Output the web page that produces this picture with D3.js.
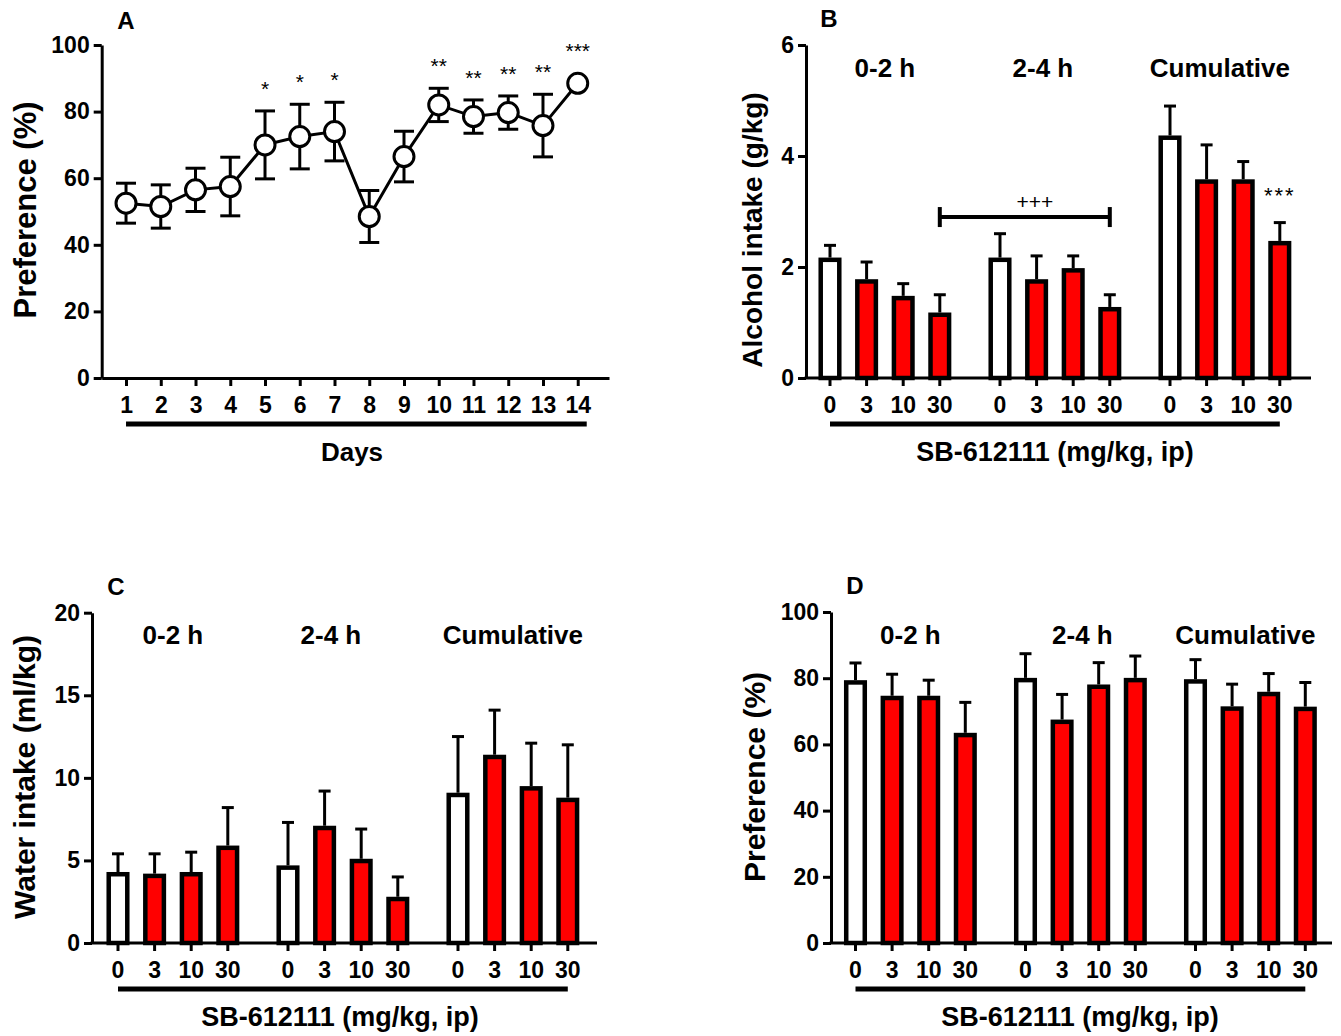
<!DOCTYPE html>
<html>
<head>
<meta charset="utf-8">
<script src="https://cdn.jsdelivr.net/npm/d3@7"></script>
<style>
  body { margin: 0; background: #fff; }
  text { font-family: "Liberation Sans", Arial, sans-serif; fill: #000; }
</style>
</head>
<body>
<svg id="drawing_region"></svg>
<script>
// ---- data ----
const days = [1, 2, 3, 4, 5, 6, 7, 8, 9, 10, 11, 12, 13, 14];
const dayPrefMean = [52.5, 51.5, 56.5, 57.5, 70, 72.5, 74, 48.5, 66.5, 82, 78.5, 79.7, 75.8, 88.5];
const dayPrefSem = [6, 6.5, 6.5, 8.8, 10.2, 9.7, 8.8, 7.8, 7.6, 5, 5, 5, 9.4, 0];
const dayStars = ["", "", "", "", "*", "*", "*", "", "", "**", "**", "**", "**", "***"];

const groups = ["0-2 h", "2-4 h", "Cumulative"];
const doses = ["0", "3", "10", "30"];

const alcoholMean = [2.17, 1.78, 1.48, 1.18,  2.17, 1.78, 1.98, 1.28,  4.37, 3.58, 3.58, 2.47];
const alcoholSem  = [0.22, 0.31, 0.22, 0.32,  0.43, 0.42, 0.22, 0.22,  0.53, 0.62, 0.32, 0.33];

const waterMean = [4.3, 4.2, 4.3, 5.9,  4.7, 7.1, 5.1, 2.8,  9.1, 11.4, 9.5, 8.8];
const waterSem  = [1.1, 1.2, 1.2, 2.3,  2.6, 2.1, 1.8, 1.2,  3.4, 2.7, 2.6, 3.2];

const prefMean = [79.4, 74.7, 74.7, 63.5,  80.1, 67.5, 78.1, 80.1,  79.7, 71.5, 75.9, 71.4];
const prefSem  = [5.2, 6.5, 4.7, 9.2,  7.3, 7.6, 6.6, 6.6,  5.9, 6.7, 5.5, 7.3];

const svg = d3.select('#drawing_region')
    .attr('width', 1341)
    .attr('height', 1036);

const FONT_TICK = 23;
const RED = '#ff0000';

function styleYAxis(g) {
    g.select('.domain').attr('stroke-width', 3);
    g.selectAll('.tick line').attr('stroke-width', 3);
    g.selectAll('.tick text')
        .attr('font-size', FONT_TICK)
        .attr('font-weight', 'bold')
        .style('font-family', '"Liberation Sans", Arial, sans-serif');
}

function styleXTicks(g) {
    g.select('.domain').remove();
    g.selectAll('.tick line').attr('stroke-width', 3);
    g.selectAll('.tick text')
        .attr('font-size', FONT_TICK)
        .attr('font-weight', 'bold')
        .style('font-family', '"Liberation Sans", Arial, sans-serif');
}

function addText(x, y, str, size, weight, rotate) {
    const t = svg.append('text')
        .attr('text-anchor', 'middle')
        .attr('font-size', size)
        .attr('font-weight', weight || 'bold')
        .text(str);
    if (rotate) {
        t.attr('transform', `translate(${x},${y}) rotate(-90)`);
    } else {
        t.attr('x', x).attr('y', y);
    }
    return t;
}

// ---- panel A: line chart ----
function drawPanelA() {
    const x0 = 101.7, y0 = 378, yTop = 45;
    const xscale = d3.scaleLinear().domain([0.3, 14.9]).range([x0, 609]);
    const yscale = d3.scaleLinear().domain([0, 100]).range([y0, yTop]);

    const ya = svg.append('g').attr('transform', `translate(${x0},0)`)
        .call(d3.axisLeft(yscale).tickValues([0, 20, 40, 60, 80, 100]).tickSize(8).tickPadding(4).tickSizeOuter(0));
    styleYAxis(ya);

    const xa = svg.append('g').attr('transform', `translate(0,${y0})`)
        .call(d3.axisBottom(xscale).tickValues(days).tickSize(8).tickPadding(11).tickSizeOuter(0));
    xa.select('.domain').attr('stroke-width', 3);
    xa.selectAll('.tick line').attr('stroke-width', 3);
    xa.selectAll('.tick text').attr('font-size', FONT_TICK).attr('font-weight', 'bold')
        .style('font-family', '"Liberation Sans", Arial, sans-serif');

    const data = days.map((d, i) => ({ day: d, m: dayPrefMean[i], s: dayPrefSem[i], star: dayStars[i] }));
    const cap = 10;
    const eb = svg.append('g').attr('stroke', '#000').attr('stroke-width', 3);
    data.filter(d => d.s > 0).forEach(d => {
        const cx = xscale(d.day);
        eb.append('line').attr('x1', cx).attr('x2', cx).attr('y1', yscale(d.m - d.s)).attr('y2', yscale(d.m + d.s));
        eb.append('line').attr('x1', cx - cap).attr('x2', cx + cap).attr('y1', yscale(d.m + d.s)).attr('y2', yscale(d.m + d.s));
        eb.append('line').attr('x1', cx - cap).attr('x2', cx + cap).attr('y1', yscale(d.m - d.s)).attr('y2', yscale(d.m - d.s));
    });

    svg.append('path').datum(data)
        .attr('fill', 'none').attr('stroke', '#000').attr('stroke-width', 3)
        .attr('d', d3.line().x(d => xscale(d.day)).y(d => yscale(d.m)));

    const r = 10;
    svg.selectAll('circle.dayPt').data(data).enter().append('circle')
        .attr('class', 'dayPt')
        .attr('cx', d => xscale(d.day)).attr('cy', d => yscale(d.m)).attr('r', r)
        .attr('fill', '#fff').attr('stroke', '#000').attr('stroke-width', 3);

    data.filter(d => d.star).forEach(d => {
        const top = Math.min(yscale(d.m + d.s), yscale(d.m) - r);
        addText(xscale(d.day), top - 27 + 12, d.star, 21, 'normal');
    });

    // underline + labels
    svg.append('line').attr('x1', xscale(1)).attr('x2', xscale(14) + 9)
        .attr('y1', 424).attr('y2', 424).attr('stroke', '#000').attr('stroke-width', 5);
    addText(352, 452 + 9, 'Days', 26);
    addText(25 + 11, 210, 'Preference (%)', 31, 'bold', true);
    addText(126, 20 + 9, 'A', 24);
}

// ---- bar panels ----
function drawBarPanel(cfg, means, sems) {
    const { axisX, xEnd, firstCenter, y0, yTop, ymax, yticks } = cfg;
    const step = 36.6, groupStep = 170;
    const outer = d3.scaleBand().domain(groups)
        .range([firstCenter - step / 2, firstCenter - step / 2 + groupStep * 3]);
    const inner = d3.scaleBand().domain(doses).range([0, step * 4])
        .paddingInner(0.37).paddingOuter(0.185);
    const yscale = d3.scaleLinear().domain([0, ymax]).range([y0, yTop]);
    const cx = (g, d) => outer(g) + inner(d) + inner.bandwidth() / 2;

    const ya = svg.append('g').attr('transform', `translate(${axisX},0)`)
        .call(d3.axisLeft(yscale).tickValues(yticks).tickFormat(d3.format('d'))
            .tickSize(8).tickPadding(4).tickSizeOuter(0));
    styleYAxis(ya);

    svg.append('line').attr('x1', axisX - 1.5).attr('x2', xEnd).attr('y1', y0).attr('y2', y0)
        .attr('stroke', '#000').attr('stroke-width', 3);

    groups.forEach(g => {
        const xg = svg.append('g').attr('transform', `translate(${outer(g)},${y0})`)
            .call(d3.axisBottom(inner).tickSize(8).tickPadding(11).tickSizeOuter(0));
        styleXTicks(xg);
    });

    const data = [];
    groups.forEach((g, gi) => doses.forEach((d, di) => {
        const k = gi * doses.length + di;
        data.push({ g: g, d: d, m: means[k], s: sems[k] });
    }));

    const sw = 4.5;
    const bw = inner.bandwidth() - sw;
    const eb = svg.append('g').attr('stroke', '#000').attr('stroke-width', 3);
    data.forEach(p => {
        const x = cx(p.g, p.d);
        eb.append('line').attr('x1', x).attr('x2', x).attr('y1', yscale(p.m)).attr('y2', yscale(p.m + p.s));
        eb.append('line').attr('x1', x - 6).attr('x2', x + 6).attr('y1', yscale(p.m + p.s)).attr('y2', yscale(p.m + p.s));
    });

    svg.append('g').selectAll('rect').data(data).enter().append('rect')
        .attr('x', p => cx(p.g, p.d) - bw / 2)
        .attr('y', p => yscale(p.m) + sw / 2)
        .attr('width', bw)
        .attr('height', p => y0 - yscale(p.m) - sw / 2)
        .attr('fill', p => p.d === '0' ? '#fff' : RED)
        .attr('stroke', '#000').attr('stroke-width', sw);

    // group titles
    groups.forEach((g, gi) => {
        const mid = (cx(g, doses[0]) + cx(g, doses[3])) / 2;
        addText(mid + cfg.titleShift[gi], yTop + 22 + 9.5, g, 26);
    });

    // underline
    svg.append('line').attr('x1', cx(groups[0], doses[0])).attr('x2', cx(groups[2], doses[3]))
        .attr('y1', y0 + 46).attr('y2', y0 + 46).attr('stroke', '#000').attr('stroke-width', 5);

    addText(cfg.titleX, y0 + 74 + 9, 'SB-612111 (mg/kg, ip)', 27);
    addText(cfg.ylabelX + 10, cfg.ylabelY, cfg.ylabel, cfg.ylabelSize || 30, 'bold', true);
    addText(cfg.letterX, yTop - 27 + 9, cfg.letter, 24);

    return { yscale, cx };
}

drawPanelA();

const B = drawBarPanel({
    axisX: 806, xEnd: 1311, firstCenter: 830, y0: 378, yTop: 45, ymax: 6, yticks: [0, 2, 4, 6],
    titleX: 1055, ylabel: 'Alcohol intake (g/kg)', ylabelX: 752, ylabelY: 230, ylabelSize: 28,
    letter: 'B', letterX: 829, titleShift: [0, -12, -5]
}, alcoholMean, alcoholSem);

// significance marks in B
const bracketVal = 2.9;
const bx1 = B.cx('0-2 h', '30'), bx2 = B.cx('2-4 h', '30'), by = B.yscale(bracketVal);
const br = svg.append('g').attr('stroke', '#000').attr('stroke-width', 4);
br.append('line').attr('x1', bx1).attr('x2', bx2).attr('y1', by).attr('y2', by);
br.append('line').attr('x1', bx1).attr('x2', bx1).attr('y1', by - 10).attr('y2', by + 10);
br.append('line').attr('x1', bx2).attr('x2', bx2).attr('y1', by - 10).attr('y2', by + 10);
addText((bx1 + bx2) / 2 + 10, by - 8, '+++', 21, 'normal');
const starTop = B.yscale(alcoholMean[11] + alcoholSem[11]);
addText(B.cx('Cumulative', '30'), starTop - 32 + 12.5, '***', 22, 'normal').attr('letter-spacing', 2);

drawBarPanel({
    axisX: 92, xEnd: 597, firstCenter: 118, y0: 943, yTop: 612.7, ymax: 20, yticks: [0, 5, 10, 15, 20],
    titleX: 340, ylabel: 'Water intake (ml/kg)', ylabelX: 25, ylabelY: 777,
    letter: 'C', letterX: 116, titleShift: [0, -12, 0]
}, waterMean, waterSem);

drawBarPanel({
    axisX: 831, xEnd: 1332, firstCenter: 855.5, y0: 943, yTop: 612, ymax: 100, yticks: [0, 20, 40, 60, 80, 100],
    titleX: 1080, ylabel: 'Preference (%)', ylabelX: 755, ylabelY: 777,
    letter: 'D', letterX: 855, titleShift: [0, 2, -5]
}, prefMean, prefSem);
</script>
</body>
</html>
